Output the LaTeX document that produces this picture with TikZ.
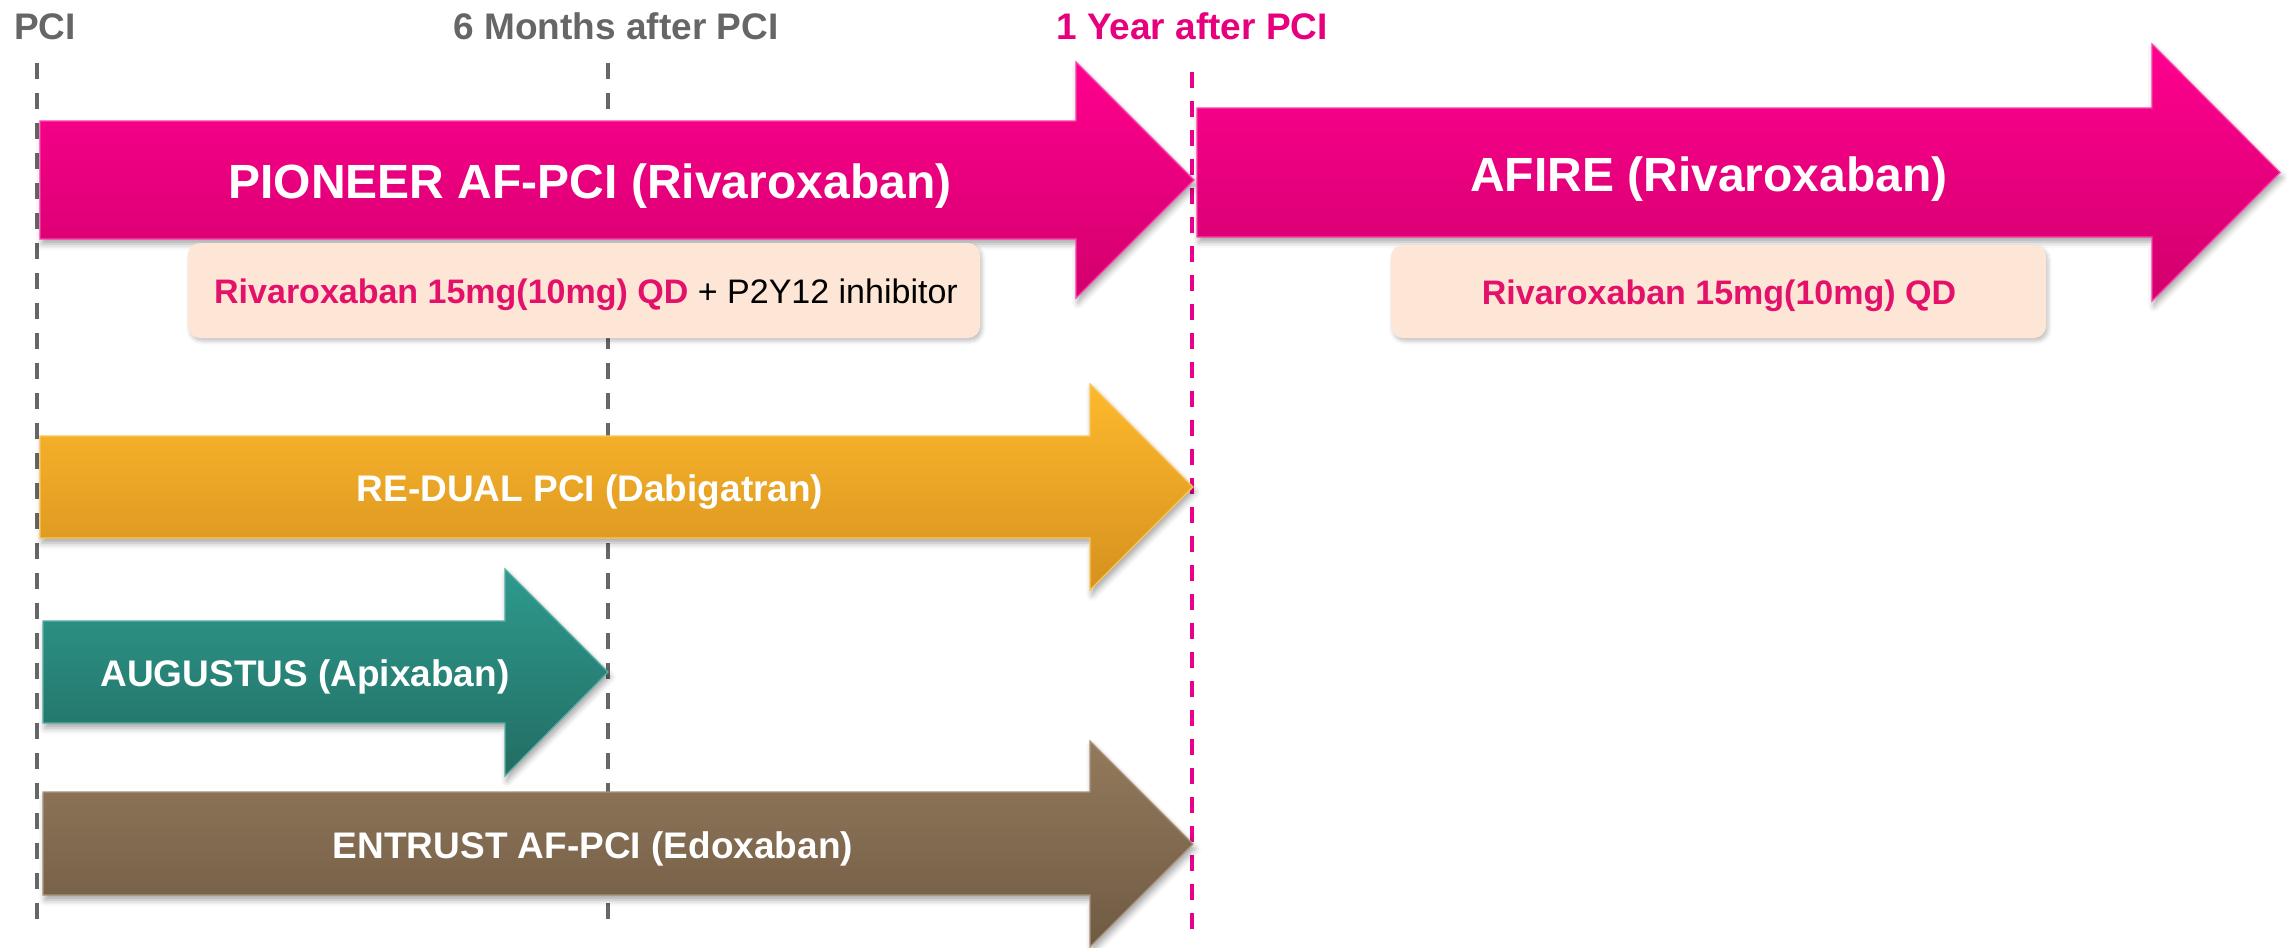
\documentclass[tikz,border=0pt]{standalone}
\usepackage{fontspec}
\setmainfont{Liberation Sans}
\usetikzlibrary{shadows.blur}

\definecolor{labelgray}{HTML}{666666}
\definecolor{yearmag}{HTML}{E6007E}
\definecolor{guidemag}{HTML}{E8008A}
\definecolor{magtop}{HTML}{FF008F}
\definecolor{magbot}{HTML}{D2006C}
\definecolor{oratop}{HTML}{FDB92C}
\definecolor{orabot}{HTML}{D6911F}
\definecolor{tealtop}{HTML}{2E9A8D}
\definecolor{tealbot}{HTML}{226D63}
\definecolor{browntop}{HTML}{937A5C}
\definecolor{brownbot}{HTML}{6F5A43}
\definecolor{beige}{HTML}{FDE6D5}
\definecolor{dosemag}{HTML}{E4116B}

\tikzset{
  guide/.style={line width=4pt, dash pattern=on 16pt off 14pt},
  trialshape/.style={line width=1.2pt, line join=miter,
    blur shadow={shadow xshift=2pt, shadow yshift=-5pt, shadow blur radius=6pt, shadow opacity=35}},
  dosebox/.style={fill=beige, rounded corners=12pt,
    blur shadow={shadow xshift=2pt, shadow yshift=-3pt, shadow blur radius=4pt, shadow opacity=25}},
  timelabel/.style={anchor=base, inner sep=0pt, font=\bfseries\fontsize{37}{44}\selectfont},
  bigtitle/.style={anchor=base, inner sep=0pt, text=white, font=\bfseries\fontsize{48}{58}\selectfont},
  trialtitle/.style={anchor=base, inner sep=0pt, text=white, font=\bfseries\fontsize{37}{44}\selectfont},
  dosetext/.style={anchor=base, inner sep=0pt, font=\fontsize{34}{40}\selectfont},
}

\begin{document}
\begin{tikzpicture}[x=1pt, y=-1pt]
  \useasboundingbox (0,0) rectangle (2287,948);

  % time markers
  \coordinate (pciT) at (37,63);    \coordinate (pciB) at (37,924);
  \coordinate (sixT) at (608,63);   \coordinate (sixB) at (608,924);
  \coordinate (yearT) at (1192,72); \coordinate (yearB) at (1192,932);
  \draw[guide, labelgray] (pciT) -- (pciB);
  \draw[guide, labelgray] (sixT) -- (sixB);
  \draw[guide, guidemag, dash pattern=on 16pt off 13pt] (yearT) -- (yearB);

  \node[timelabel, text=labelgray] (pci) at (45,39) {PCI};
  \node[timelabel, text=labelgray] (six) at (616,39) {6 Months after PCI};
  \node[timelabel, text=yearmag] (year) at (1192,39) {1 Year after PCI};

  % PIONEER AF-PCI
  \path[trialshape, top color=magtop, bottom color=magbot, draw=magtop!75!white]
    (40,121) -- (1076,121) -- (1076,62) -- (1194,180) -- (1076,298) -- (1076,239) -- (40,239) -- cycle;
  \node[bigtitle] (pioneer) at (590,198) {PIONEER AF-PCI (Rivaroxaban)};

  % AFIRE
  \path[trialshape, top color=magtop, bottom color=magbot, draw=magtop!75!white]
    (1197,108) -- (2152,108) -- (2152,44) -- (2280,172.5) -- (2152,301) -- (2152,237) -- (1197,237) -- cycle;
  \node[bigtitle] (afire) at (1709,191) {AFIRE (Rivaroxaban)};

  % dosing boxes
  \path[dosebox] (188,243) rectangle (980,338);
  \node[dosetext] (dose1) at (586,303)
    {\textbf{\color{dosemag}Rivaroxaban 15mg(10mg) QD} + P2Y12 inhibitor};
  \path[dosebox] (1391,245) rectangle (2046,338);
  \node[dosetext] (dose2) at (1719,304)
    {\textbf{\color{dosemag}Rivaroxaban 15mg(10mg) QD}};

  % RE-DUAL PCI
  \path[trialshape, top color=oratop, bottom color=orabot, draw=oratop!80!white]
    (40,436) -- (1090,436) -- (1090,384) -- (1193,487) -- (1090,590) -- (1090,538) -- (40,538) -- cycle;
  \node[trialtitle] (redual) at (590,501) {RE-DUAL PCI (Dabigatran)};

  % AUGUSTUS
  \path[trialshape, top color=tealtop, bottom color=tealbot, draw=tealtop!80!white]
    (43,621) -- (505,621) -- (505,569) -- (608,672) -- (505,776) -- (505,723) -- (43,723) -- cycle;
  \node[trialtitle] (augustus) at (305,686) {AUGUSTUS (Apixaban)};

  % ENTRUST AF-PCI
  \path[trialshape, top color=browntop, bottom color=brownbot, draw=browntop!80!white]
    (43,792) -- (1090,792) -- (1090,741) -- (1193,844) -- (1090,947) -- (1090,895) -- (43,895) -- cycle;
  \node[trialtitle] (entrust) at (593,858) {ENTRUST AF-PCI (Edoxaban)};
\end{tikzpicture}
\end{document}
